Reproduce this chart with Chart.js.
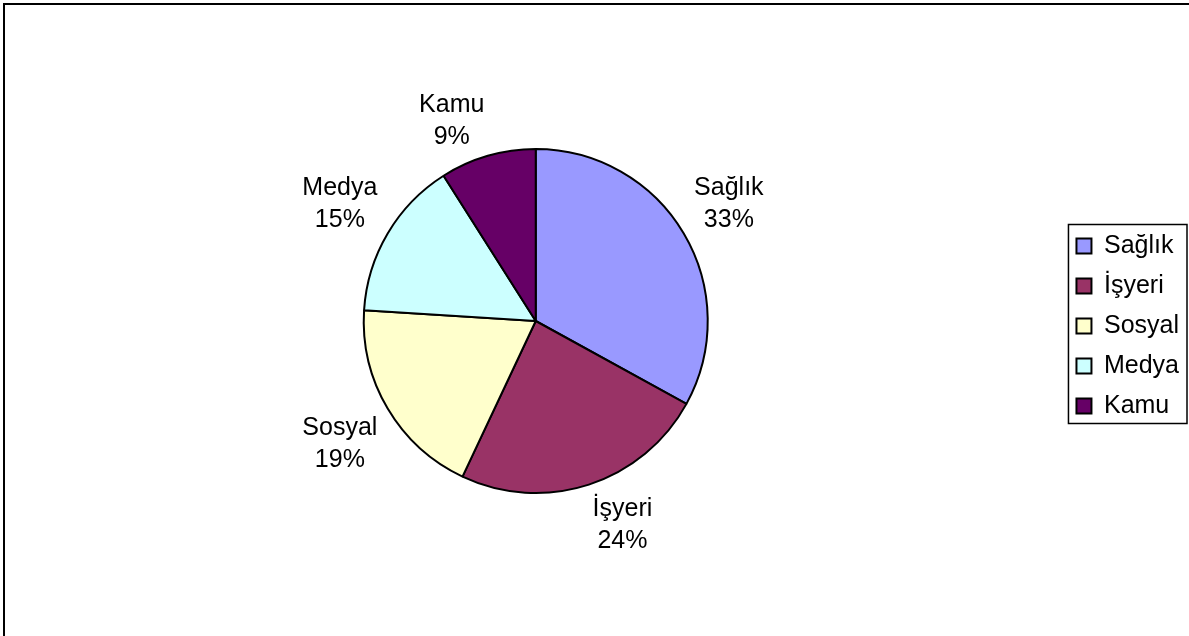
<!DOCTYPE html>
<html>
<head>
<meta charset="utf-8">
<script src="https://cdn.jsdelivr.net/npm/chart.js@4.4.0/dist/chart.umd.min.js"></script>
<style>
  html, body { margin: 0; padding: 0; background: #fff; }
  #wrap { position: relative; width: 1189px; height: 636px; }
  canvas { display: block; }
</style>
</head>
<body>
<div id="wrap"><canvas id="c" width="1189" height="636"></canvas></div>
<script>
const categories = ['Sağlık', 'İşyeri', 'Sosyal', 'Medya', 'Kamu'];
const values = [33, 24, 19, 15, 9];
const sliceColors = ['#9999FF', '#993366', '#FFFFCC', '#CCFFFF', '#660066'];

const FONT = 'Liberation Sans, Arial, sans-serif';

const framePlugin = {
  id: 'frame',
  beforeDraw(chart) {
    const ctx = chart.ctx;
    ctx.save();
    ctx.fillStyle = '#fff';
    ctx.fillRect(0, 0, chart.width, chart.height);
    ctx.strokeStyle = '#000';
    ctx.lineWidth = 2;
    ctx.beginPath();
    ctx.moveTo(4, chart.height + 5);
    ctx.lineTo(4, 4);
    ctx.lineTo(chart.width + 5, 4);
    ctx.stroke();
    ctx.restore();
  },
  afterDraw(chart) {
    const lg = chart.legend;
    if (!lg || !lg.legendHitBoxes || !lg.legendHitBoxes.length) return;
    const hb = lg.legendHitBoxes;
    let right = 0;
    hb.forEach(b => { right = Math.max(right, b.left + b.width); });
    const boxH = lg.options.labels.boxHeight;
    const fs = lg.options.labels.font.size;
    const firstTop = hb[0].top + Math.max((fs - boxH) / 2, 0);
    const last = hb[hb.length - 1];
    const lastBottom = last.top + Math.max((fs - boxH) / 2, 0) + boxH;
    const ctx = chart.ctx;
    ctx.save();
    ctx.strokeStyle = '#000';
    ctx.lineWidth = 1.5;
    ctx.strokeRect(hb[0].left - 8, firstTop - 14, right - hb[0].left + 16, lastBottom - firstTop + 24);
    ctx.restore();
  }
};

const labelPlugin = {
  id: 'sliceLabels',
  afterDatasetsDraw(chart) {
    const meta = chart.getDatasetMeta(0);
    const data = chart.data.datasets[0].data;
    const total = data.reduce((a, b) => a + b, 0);
    const ctx = chart.ctx;
    ctx.save();
    ctx.font = '25px ' + FONT;
    ctx.fillStyle = '#000';
    ctx.textAlign = 'center';
    ctx.textBaseline = 'middle';
    meta.data.forEach((arc, i) => {
      const p = arc.getProps(['x', 'y', 'startAngle', 'endAngle', 'outerRadius'], true);
      const a = (p.startAngle + p.endAngle) / 2;
      const name = chart.data.labels[i];
      const pct = Math.round(data[i] / total * 100) + '%';
      const w = Math.max(ctx.measureText(name).width, ctx.measureText(pct).width);
      const dx = Math.cos(a), dy = Math.sin(a);
      const px = p.x + dx * (p.outerRadius + 12);
      const py = p.y + dy * (p.outerRadius + 12);
      const cx = dx >= 0 ? px + w / 2 : px - w / 2;
      let l1, l2;
      if (dy >= 0) { l1 = py + 13; l2 = l1 + 32; }
      else { l2 = py - 7; l1 = l2 - 32; }
      ctx.fillText(name, cx, l1);
      ctx.fillText(pct, cx, l2);
    });
    ctx.restore();
  }
};

new Chart(document.getElementById('c'), {
  type: 'pie',
  data: {
    labels: categories,
    datasets: [{
      data: values,
      backgroundColor: sliceColors,
      borderColor: '#000',
      borderWidth: 2,
      hoverOffset: 0
    }]
  },
  options: {
    responsive: false,
    animation: false,
    radius: 172,
    layout: { padding: { top: 24, bottom: 18, left: 10, right: 0 } },
    plugins: {
      tooltip: { enabled: false },
      legend: {
        position: 'right',
        title: { display: true, text: '', font: { size: 8, lineHeight: 1.25 }, padding: 0 },
        labels: {
          font: { family: FONT, size: 25 },
          color: '#000',
          boxWidth: 15,
          boxHeight: 15,
          padding: 15
        }
      }
    }
  },
  plugins: [framePlugin, labelPlugin]
});
</script>
</body>
</html>
